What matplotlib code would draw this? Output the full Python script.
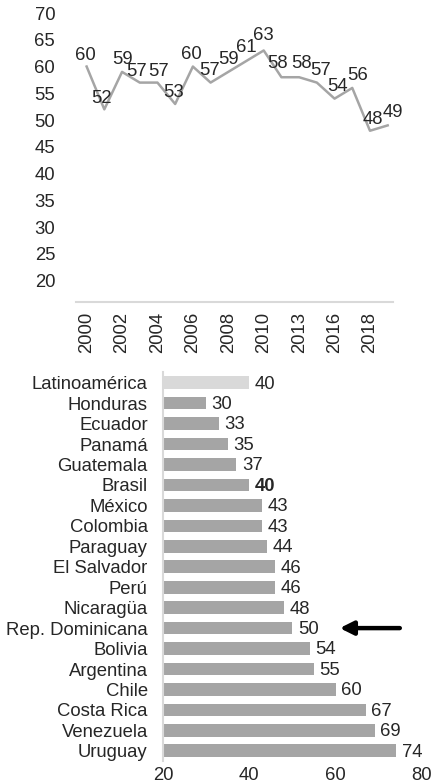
import matplotlib
matplotlib.use("Agg")
from matplotlib import pyplot as plt

# serie temporal (apoyo a la democracia, %)
years = ['2000', '2001', '2002', '2003', '2004', '2005', '2006', '2007', '2008',
         '2009', '2010', '2011', '2013', '2015', '2016', '2017', '2018', '2020']
support = [60, 52, 59, 57, 57, 53, 60, 57, 59, 61, 63, 58, 58, 57, 54, 56, 48, 49]

# ranking por pais
countries = ['Latinoamérica', 'Honduras', 'Ecuador', 'Panamá', 'Guatemala', 'Brasil',
             'México', 'Colombia', 'Paraguay', 'El Salvador', 'Perú', 'Nicaragüa',
             'Rep. Dominicana', 'Bolivia', 'Argentina', 'Chile', 'Costa Rica',
             'Venezuela', 'Uruguay']
values = [40, 30, 33, 35, 37, 40, 43, 43, 44, 46, 46, 48, 50, 54, 55, 60, 67, 69, 74]

plt.rcParams['font.family'] = ['Liberation Sans', 'DejaVu Sans']
plt.rcParams['font.size'] = 13.3
txt = '#262626'

fig = plt.figure(figsize=(4.33, 7.84), dpi=100)

# --- grafico de lineas ---
ax1 = fig.add_axes([0.1755, 0.6148, 0.7321, 0.3686])
x = list(range(len(years)))
ax1.plot(x, support, color='#A5A5A5', linewidth=1.8)
# pequeños desplazamientos horizontales de las etiquetas (en puntos) para que no se pisen
dx = [-1, -2, 0, -2, 1, -1, -1, -1, 0, 0, 0, -3, 2, 3, 2, 4, 2, 4]
dy = [8, 8, 9, 8, 8, 8, 9, 9, 9, 10, 11, 10, 10, 9, 9, 9, 8, 9]
for xi, v, ox, oy in zip(x, support, dx, dy):
    ax1.annotate(str(v), (xi, v), xytext=(ox, oy), textcoords='offset points',
                 ha='center', va='center', color=txt)
ax1.set_xlim(-0.6, 17.3)
ax1.set_ylim(16, 70)
ax1.set_yticks(range(20, 71, 5))
ax1.set_xticks(x[::2])
ax1.set_xticklabels(years[::2], rotation=90)
ax1.tick_params(length=0, colors=txt)
ax1.tick_params(axis='y', pad=15)
ax1.tick_params(axis='x', pad=7)
for s in ['top', 'right', 'left']:
    ax1.spines[s].set_visible(False)
ax1.spines['bottom'].set_color('#D9D9D9')
ax1.spines['bottom'].set_linewidth(1.5)

# --- grafico de barras ---
ax2 = fig.add_axes([0.3764, 0.0293, 0.5982, 0.4956])
colors = ['#D9D9D9'] + ['#A5A5A5'] * (len(countries) - 1)
ypos = list(range(len(countries)))
ax2.barh(ypos, [v - 20 for v in values], left=20, height=0.62, color=colors)
for yi, (c, v) in enumerate(zip(countries, values)):
    ax2.annotate(str(v), (v, yi), xytext=(4, -1), textcoords='offset points',
                 ha='left', va='center', color=txt,
                 fontweight='bold' if c == 'Brasil' else 'normal')
ax2.set_xlim(20, 80)
ax2.set_ylim(len(countries) - 0.5, -0.5)
ax2.set_yticks(ypos)
ax2.set_yticklabels(countries)
ax2.set_xticks([20, 40, 60, 80])
ax2.tick_params(length=0, colors=txt)
ax2.tick_params(axis='y', pad=11)
ax2.tick_params(axis='x', pad=4)
for s in ['top', 'right', 'bottom']:
    ax2.spines[s].set_visible(False)
ax2.spines['left'].set_color('#D9D9D9')
ax2.spines['left'].set_linewidth(1.5)

# flecha hacia Rep. Dominicana
ax2.annotate('', xy=(60.3, 12), xytext=(75.5, 12),
             arrowprops=dict(arrowstyle='-|>', color='black', lw=3.2,
                             mutation_scale=20), annotation_clip=False)

plt.savefig('out.png', dpi=100)
